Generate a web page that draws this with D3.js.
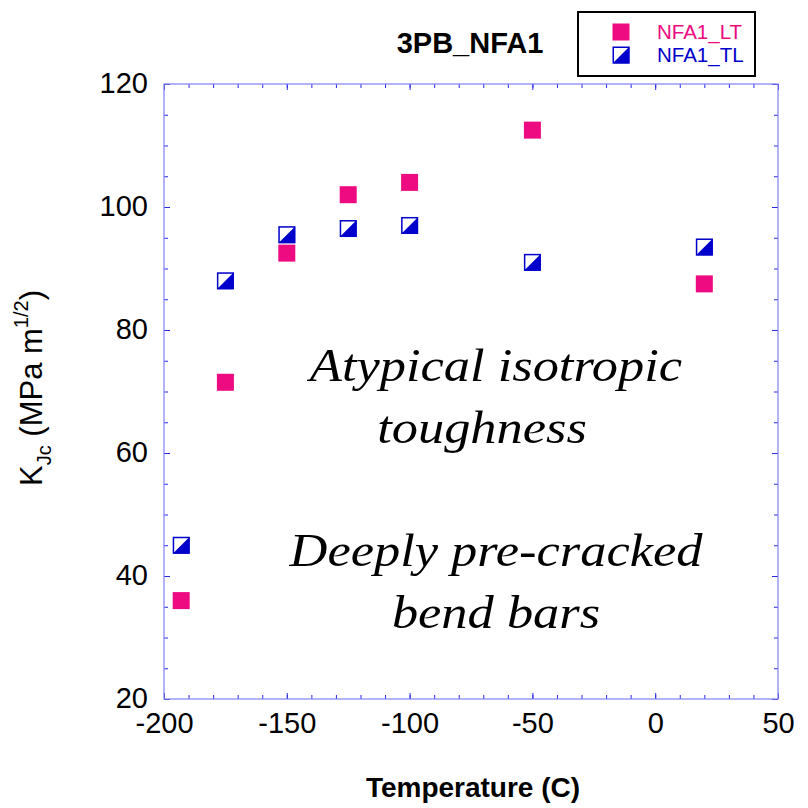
<!DOCTYPE html>
<html lang="en">
<head>
<meta charset="UTF-8">
<script src="https://d3js.org/d3.v7.min.js"></script>
<title>3PB_NFA1</title>
<style>
  body { margin: 0; background: #fff; }
  svg { display: block; }
</style>
</head>
<body>
<script>
var w = 808, h = 808;
var m = { left: 164, right: 30, top: 84, bottom: 109 };

// data
var tempLT = [-193, -175, -150, -125, -100, -50, 20];
var kjcLT = [36, 71.5, 92.5, 102, 104, 112.5, 87.5];
var tempTL = [-193, -175, -150, -125, -100, -50, 20];
var kjcTL = [45, 88, 95.5, 96.5, 97, 91, 93.5];
var xTicks = [-200, -150, -100, -50, 0, 50];
var yTicks = [20, 40, 60, 80, 100, 120];

var pink = "#ee0a80", blue = "#0000cc";
var frameColor = "#8080f4", tickColor = "#2a2ae6";
var sans = "Liberation Sans, Arial, Helvetica, sans-serif";

var svg = d3.select("body").append("svg").attr("width", w).attr("height", h);

var x = d3.scaleLinear().domain([-200, 50]).range([m.left, w - m.right]);
var y = d3.scaleLinear().domain([20, 120]).range([h - m.bottom, m.top]);

var x0 = m.left, x1 = w - m.right, y0 = h - m.bottom, y1 = m.top;

// minor ticks
var xMinor = d3.range(-200, 51, 10);
var yMinor = d3.range(20, 121, 5);

function styleAxis(g) {
  g.select(".domain").remove();
  g.selectAll(".tick line").attr("stroke", tickColor).attr("stroke-width", 1);
}
function hyphen(d) { return String(d); }

// minor ticks on all four sides
svg.append("g").attr("transform", "translate(0," + y0 + ")")
  .call(d3.axisBottom(x).tickValues(xMinor).tickSize(-4).tickFormat(""))
  .call(styleAxis);
svg.append("g").attr("transform", "translate(0," + y1 + ")")
  .call(d3.axisTop(x).tickValues(xMinor).tickSize(-4).tickFormat(""))
  .call(styleAxis);
svg.append("g").attr("transform", "translate(" + x0 + ",0)")
  .call(d3.axisLeft(y).tickValues(yMinor).tickSize(-4).tickFormat(""))
  .call(styleAxis);
svg.append("g").attr("transform", "translate(" + x1 + ",0)")
  .call(d3.axisRight(y).tickValues(yMinor).tickSize(-4).tickFormat(""))
  .call(styleAxis);

// major ticks with labels
var xAx = svg.append("g").attr("transform", "translate(0," + y0 + ")")
  .call(d3.axisBottom(x).tickValues(xTicks).tickSize(-6).tickFormat(hyphen))
  .call(styleAxis);
xAx.selectAll("text").attr("font-family", sans)
  .attr("font-size", 29).attr("fill", "#000").attr("dy", "0").attr("y", 34);

svg.append("g").attr("transform", "translate(0," + y1 + ")")
  .call(d3.axisTop(x).tickValues(xTicks).tickSize(-6).tickFormat(""))
  .call(styleAxis);

var yAx = svg.append("g").attr("transform", "translate(" + x0 + ",0)")
  .call(d3.axisLeft(y).tickValues(yTicks).tickSize(-6).tickPadding(16).tickFormat(hyphen))
  .call(styleAxis);
yAx.selectAll("text").attr("font-family", sans)
  .attr("font-size", 29).attr("fill", "#000").attr("dy", "0.3em");

svg.append("g").attr("transform", "translate(" + x1 + ",0)")
  .call(d3.axisRight(y).tickValues(yTicks).tickSize(-6).tickFormat(""))
  .call(styleAxis);

// frame
svg.append("rect").attr("x", x0).attr("y", y1)
  .attr("width", x1 - x0).attr("height", y0 - y1)
  .attr("fill", "none").attr("stroke", frameColor).attr("stroke-width", 1.2);

// markers
var s = 17;
function halfSquare(g, cx, cy) {
  g.append("rect").attr("x", cx - s / 2).attr("y", cy - s / 2)
    .attr("width", s).attr("height", s).attr("fill", "#fff");
  g.append("path")
    .attr("d", "M" + (cx - s / 2) + "," + (cy + s / 2) + "L" + (cx + s / 2) + "," + (cy - s / 2) +
      "L" + (cx + s / 2) + "," + (cy + s / 2) + "Z")
    .attr("fill", blue);
  g.append("rect").attr("x", cx - s / 2 + 0.75).attr("y", cy - s / 2 + 0.75)
    .attr("width", s - 1.5).attr("height", s - 1.5)
    .attr("fill", "none").attr("stroke", blue).attr("stroke-width", 1.5);
}

var gTL = svg.append("g");
tempTL.forEach(function(t, i) { halfSquare(gTL, x(t), y(kjcTL[i])); });

svg.append("g").selectAll("rect").data(tempLT).enter().append("rect")
  .attr("x", function(d) { return x(d) - s / 2; })
  .attr("y", function(d, i) { return y(kjcLT[i]) - s / 2; })
  .attr("width", s).attr("height", s).attr("fill", pink);

// title
svg.append("text").attr("x", 470).attr("y", 53).attr("text-anchor", "middle")
  .attr("font-family", sans).attr("font-weight", "bold")
  .attr("font-size", 29).text("3PB_NFA1");

// legend
var lg = svg.append("g");
lg.append("rect").attr("x", 578).attr("y", 12).attr("width", 177).attr("height", 64)
  .attr("fill", "#fff").attr("stroke", "#000").attr("stroke-width", 2);
lg.append("rect").attr("x", 621 - s / 2).attr("y", 32 - s / 2).attr("width", s).attr("height", s).attr("fill", pink);
halfSquare(lg, 621, 55);
lg.append("text").attr("x", 657).attr("y", 39).attr("fill", pink)
  .attr("font-family", sans).attr("font-size", 20.5).text("NFA1_LT");
lg.append("text").attr("x", 657).attr("y", 62).attr("fill", blue)
  .attr("font-family", sans).attr("font-size", 20.5).text("NFA1_TL");

// axis titles
svg.append("text").attr("x", 473).attr("y", 797).attr("text-anchor", "middle")
  .attr("font-family", sans).attr("font-weight", "bold")
  .attr("font-size", 28).text("Temperature (C)");

var yl = svg.append("text").attr("transform", "translate(42,388) rotate(-90)")
  .attr("text-anchor", "middle")
  .attr("font-family", sans).attr("font-size", 31);
yl.append("tspan").text("K");
yl.append("tspan").attr("font-size", 20).attr("dy", 9).text("Jc");
yl.append("tspan").attr("dy", -9).text(" (MPa m");
yl.append("tspan").attr("font-size", 20).attr("dy", -14).text("1/2");
yl.append("tspan").attr("dy", 14).text(")");

// annotations (wide Times italic in the original, so stretched a little)
var notes = [
  { t: "Atypical isotropic", cx: 496, y: 381 },
  { t: "toughness", cx: 482, y: 443 },
  { t: "Deeply pre-cracked", cx: 496, y: 566 },
  { t: "bend bars", cx: 496, y: 628 }
];
svg.append("g").selectAll("text").data(notes).enter().append("text")
  .attr("transform", function(d) { return "translate(" + d.cx + "," + d.y + ") scale(1.14,1)"; })
  .attr("text-anchor", "middle")
  .attr("font-family", "Liberation Serif, Times New Roman, serif")
  .attr("font-style", "italic").attr("font-size", 46)
  .text(function(d) { return d.t; });
</script>
</body>
</html>
